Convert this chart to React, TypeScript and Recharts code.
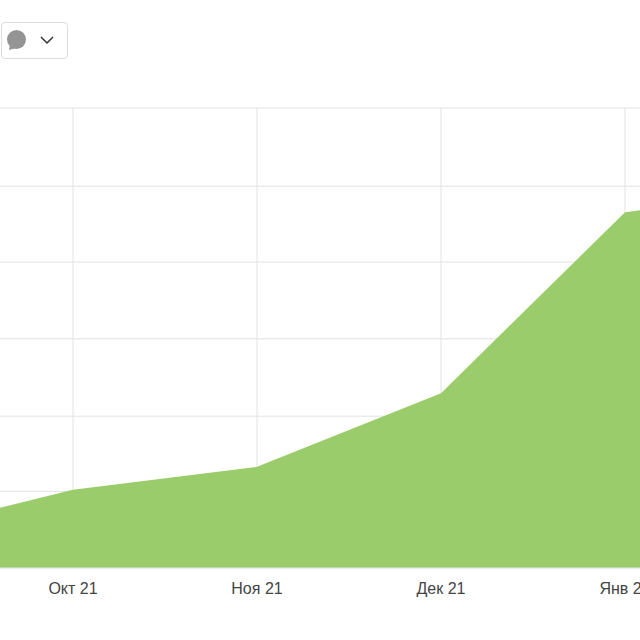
import { Area, AreaChart, CartesianGrid, XAxis, YAxis } from "recharts";

const months = ["Сен 21", "Окт 21", "Ноя 21", "Дек 21", "Янв 22", "Фев 22"];
const shownMonths = ["Окт 21", "Ноя 21", "Дек 21", "Янв 22"];
const values = [43, 102, 132, 228, 464, 496];
const yTicks = [0, 100, 198, 299, 399, 498, 600];

const data = months.map((month, i) => ({ month, value: values[i] }));

function FilterButton() {
  return (
    <div
      style={{
        position: "absolute",
        left: 1,
        top: 22,
        width: 65,
        height: 35,
        border: "1px solid #dcdcdc",
        borderRadius: 4,
        background: "#fff"
      }}
    >
      <svg width="65" height="35" style={{ display: "block" }}>
        <circle cx="14.5" cy="16.5" r="9.5" fill="#949494" />
        <path d="M8 22 L7 27 L14 25 Z" fill="#949494" />
        <path d="M39 14 L45 20 L51 14" fill="none" stroke="#333" strokeWidth="1.5" />
      </svg>
    </div>
  );
}

export default function App() {
  return (
    <div style={{ position: "fixed", left: 0, top: 0, width: 640, height: 640, overflow: "hidden", background: "#fff" }}>
      <div style={{ position: "absolute", left: -111, top: 0 }}>
        <AreaChart width={920} height={640} data={data} margin={{ top: 108, right: 0, bottom: 42, left: 0 }}>
          <CartesianGrid stroke="#e2e2e2" strokeWidth={1} />
          <XAxis
            dataKey="month"
            scale="point"
            padding={{ left: 0, right: 0 }}
            interval={0}
            axisLine={{ stroke: "#e6e6e6" }}
            tickLine={false}
            tickMargin={9}
            tickFormatter={(m: string) => (shownMonths.includes(m) ? m : "")}
            tick={{ fill: "#444", fontSize: 16, fontFamily: "'Liberation Sans', Arial, sans-serif" }}
          />
          <YAxis hide domain={[0, 600]} ticks={yTicks} />
          <Area
            type="linear"
            dataKey="value"
            stroke="none"
            fill="#94c962"
            fillOpacity={0.94}
            dot={false}
            activeDot={false}
            isAnimationActive={false}
          />
        </AreaChart>
      </div>
      <FilterButton />
    </div>
  );
}
